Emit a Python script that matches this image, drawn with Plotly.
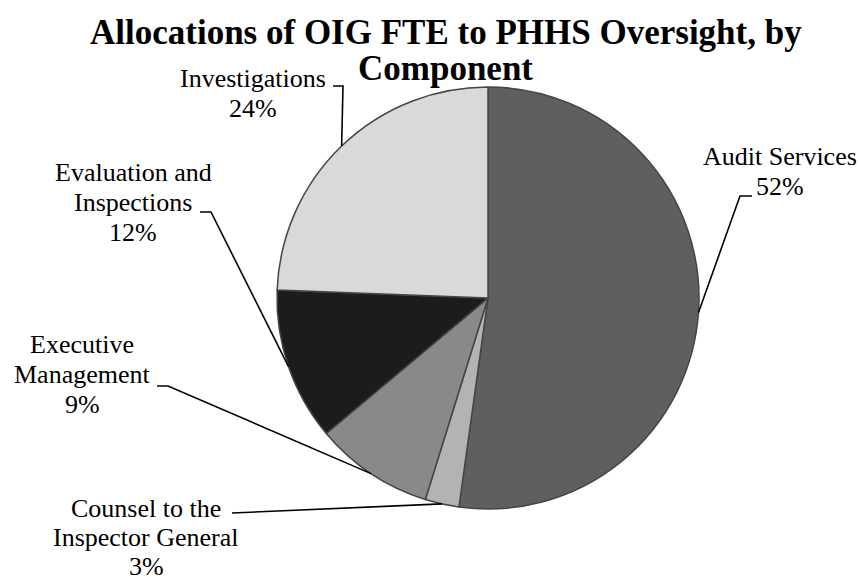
import math
import plotly.graph_objects as go

# ---- data ----
components = ["Audit Services", "Counsel to the Inspector General", "Executive Management",
              "Evaluation and Inspections", "Investigations"]
label_lines = [["Audit Services"], ["Counsel to the", "Inspector General"],
               ["Executive", "Management"], ["Evaluation and", "Inspections"],
               ["Investigations"]]
fte_share = [52.2, 2.6, 9.1, 11.7, 24.4]
slice_colors = ["#5f5f5f", "#b3b3b3", "#898989", "#1c1c1c", "#d9d9d9"]
title_lines = ["Allocations of OIG FTE to PHHS Oversight, by", "Component"]

# ---- layout constants (screen pixels) ----
W, H = 859, 582
CX, CY, R = 488, 298, 211
FONT = "Liberation Serif, Times New Roman, serif"
LFS = 26      # label font size
TFS = 35      # title font size

def px(x):
    return x / W

def py(y):
    return 1 - y / H

# label block placement: (center x, first baseline y, line spacing), and leader elbow points
label_place = [
    (780, 165, 30),
    (146, 517, 29),
    (82, 353, 30),
    (133, 181, 30),
    (253, 87, 30),
]
leader_elbows = [
    [(752, 196), (740, 196)],
    [(232, 513)],
    [(157, 386), (168, 386)],
    [(200, 212), (211, 212)],
    [(333, 86), (343, 86)],
]

fig = go.Figure(go.Pie(
    labels=components,
    values=fte_share,
    sort=False,
    direction="clockwise",
    rotation=0,
    textinfo="none",
    hoverinfo="label+percent",
    marker=dict(colors=slice_colors, line=dict(color="#454545", width=1.5)),
    domain=dict(x=[px(CX - R), px(CX + R)], y=[py(CY + R), py(CY - R)]),
    showlegend=False,
))

annotations = []
shapes = []
total = sum(fte_share)
cum = 0.0
for i, v in enumerate(fte_share):
    mid = (cum + v / 2) / total * 2 * math.pi
    cum += v
    ex = CX + R * math.sin(mid)
    ey = CY - R * math.cos(mid)
    pts = leader_elbows[i] + [(ex, ey)]
    path = "M " + " L ".join(f"{px(x):.5f},{py(y):.5f}" for x, y in pts)
    shapes.append(dict(type="path", path=path, xref="paper", yref="paper",
                       line=dict(color="black", width=1.6)))
    lines = label_lines[i] + [f"{round(v / total * 100)}%"]
    cx, b0, sp = label_place[i]
    for k, t in enumerate(lines):
        base = b0 + k * sp
        annotations.append(dict(
            text=t, x=px(cx), y=py(base - 0.32 * LFS), xref="paper", yref="paper",
            xanchor="center", yanchor="middle", showarrow=False,
            font=dict(family=FONT, size=LFS, color="black")))

title_base = [44, 80]
for t, b in zip(title_lines, title_base):
    annotations.append(dict(
        text=f"<b>{t}</b>", x=px(446), y=py(b - 0.33 * TFS), xref="paper", yref="paper",
        xanchor="center", yanchor="middle", showarrow=False,
        font=dict(family=FONT, size=TFS, color="black")))

fig.update_layout(
    width=W, height=H,
    margin=dict(l=0, r=0, t=0, b=0),
    paper_bgcolor="white", plot_bgcolor="white",
    annotations=annotations, shapes=shapes,
)

fig.write_html("out.html",
               config={"displayModeBar": False},
               post_script="document.body.style.margin='0';document.body.style.overflow='hidden';")
